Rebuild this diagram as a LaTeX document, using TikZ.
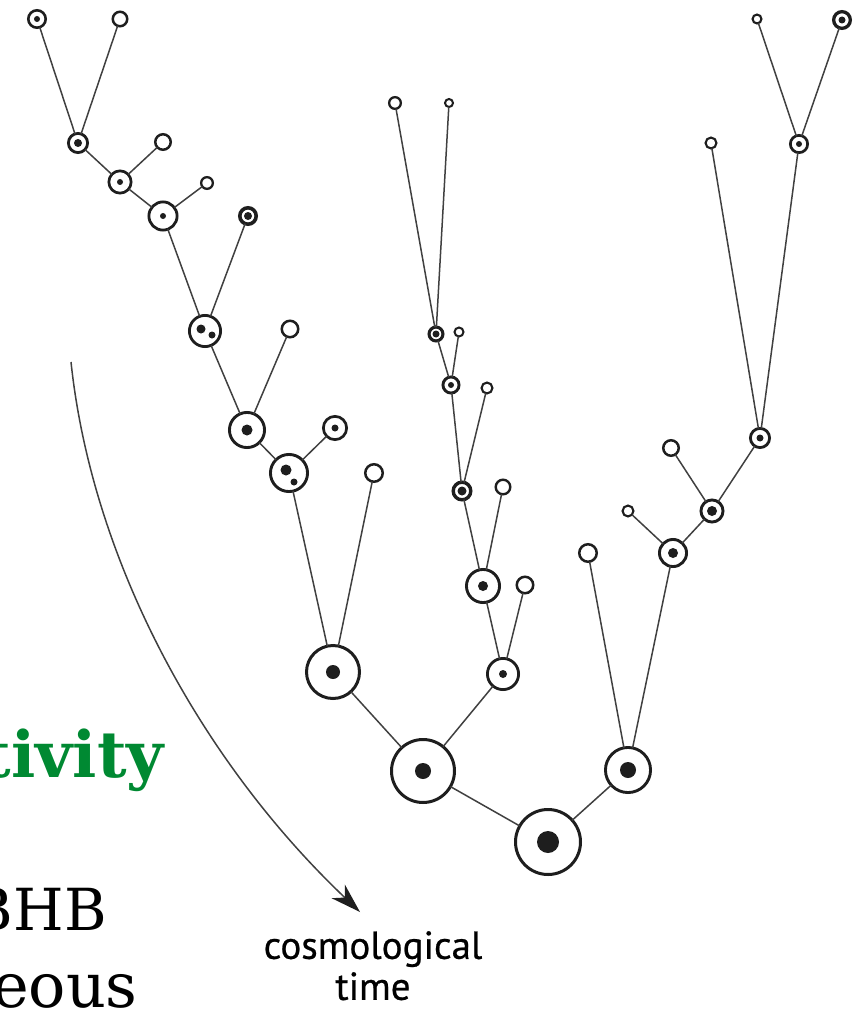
\documentclass[tikz,border=0pt]{standalone}
\usepackage{fontspec}
\setmainfont{DejaVu Serif}
\newfontfamily\labelfont[FakeBold=0.6]{PT Sans}
\usetikzlibrary{arrows.meta}
\definecolor{ink}{HTML}{1E1E1E}
\definecolor{wire}{HTML}{404040}
\definecolor{leafgreen}{RGB}{0,137,50}
\tikzset{
  halo/.style={circle, draw=ink, fill=white, inner sep=0pt, outer sep=0pt},
  link/.style={draw=wire, line width=1.5pt},
  timearrow/.style={draw=wire, line width=1.5pt, -{Stealth[length=30pt, width=19pt, inset=9pt, color=ink]}},
}
% \bhole{name}{x,y}{outer radius}{core radius}{ring width}
\newcommand\bhole[5]{%
  \pgfmathsetmacro\ringd{2*#3-#5}%
  \node[halo, minimum size=\ringd pt, line width=#5pt] (#1) at (#2) {};%
  \ifdim #4pt>0pt \fill[ink] (#1.center) circle[radius=#4pt];\fi
}
\begin{document}
\begin{tikzpicture}[x=1pt, y=-1pt]
\useasboundingbox (0,0) rectangle (858,1011);
\clip (0,0) rectangle (858,1011);

% ---- left branch ----
\bhole{L1}{37,19}{10}{3}{2.6}
\bhole{L2}{120,19}{8.5}{0}{2.5}
\bhole{L3}{78,143}{11}{4}{2.8}
\bhole{L4}{163,142}{9}{0}{2.5}
\bhole{L5}{120,182}{12.5}{3}{2.7}
\bhole{L6}{207,183}{7}{0}{2.3}
\bhole{L7}{163,216}{15.5}{3}{2.8}
\bhole{L8}{248,216}{10}{4}{3.6}
\bhole{L9}{205,331}{17}{0}{2.8}
\fill[ink] (201,329) circle[radius=4.5pt] (212,335) circle[radius=3.5pt];
\bhole{L10}{290,329}{9.5}{0}{2.5}
\bhole{L11}{247,430}{19}{5.5}{2.9}
\bhole{L12}{335,428}{13}{3.5}{2.7}
\bhole{L13}{289,473}{20}{0}{2.9}
\fill[ink] (286,470) circle[radius=5.5pt] (294,482) circle[radius=3.5pt];
\bhole{L14}{374,473}{10}{0}{2.5}
\bhole{L15}{333,672}{28}{7}{3}
\bhole{L16}{503,674}{17}{4}{2.8}

% ---- middle branch ----
\bhole{Ma}{395,103}{7}{0}{2.3}
\bhole{Mb}{449,103}{5}{0}{2}
\bhole{Mc}{436,334}{8.5}{3.5}{3.1}
\bhole{Md}{459,332}{5.5}{0}{2}
\bhole{Me}{451,385}{9.5}{3}{2.9}
\bhole{Mf}{487,388}{6.5}{0}{2.1}
\bhole{Mg}{462,491}{10.5}{4.5}{3.4}
\bhole{Mh}{503,487}{8.5}{0}{2.4}
\bhole{Mi}{483,586}{18}{5}{2.9}
\bhole{Mj}{525,585}{9.5}{0}{2.5}

% ---- trunk ----
\bhole{M1}{423,771}{33}{8}{3}
\bhole{R1}{548,842}{34}{11}{3}
\bhole{R2}{628,770}{24}{8}{2.9}

% ---- right branch ----
\bhole{T1}{757,19}{5.5}{0}{2.1}
\bhole{T2}{842,20}{10}{3.5}{3.3}
\bhole{T3}{799,144}{10}{3}{2.7}
\bhole{T4}{711,143}{6.5}{0}{2.1}
\bhole{T5}{760,438}{11}{3.5}{2.8}
\bhole{T6}{671,448}{9}{0}{2.5}
\bhole{T7}{712,511}{12.5}{5}{2.9}
\bhole{T8}{628,511}{6.5}{0}{2.1}
\bhole{T9}{673,553}{15}{5}{2.9}
\bhole{T10}{588,553}{10}{0}{2.5}

% ---- mergers ----
\path[link] (L1) -- (L3)  (L2) -- (L3)  (L3) -- (L5)  (L4) -- (L5)
  (L5) -- (L7)  (L6) -- (L7)  (L7) -- (L9)  (L8) -- (L9)
  (L9) -- (L11)  (L10) -- (L11)  (L11) -- (L13)  (L12) -- (L13)
  (L13) -- (L15)  (L14) -- (L15)  (L15) -- (M1);
\path[link] (Ma) -- (Mc)  (Mb) -- (Mc)  (Mc) -- (Me)  (Md) -- (Me)
  (Me) -- (Mg)  (Mf) -- (Mg)  (Mg) -- (Mi)  (Mh) -- (Mi)
  (Mi) -- (L16)  (Mj) -- (L16)  (L16) -- (M1);
\path[link] (M1) -- (R1)  (R2) -- (R1);
\path[link] (T1) -- (T3)  (T2) -- (T3)  (T3) -- (T5)  (T4) -- (T5)
  (T5) -- (T7)  (T6) -- (T7)  (T7) -- (T9)  (T8) -- (T9)
  (T9) -- (R2)  (T10) -- (R2);

% ---- time arrow ----
\coordinate (tstart) at (71,362);
\coordinate (tend) at (360,912);
\draw[timearrow] (tstart) .. controls (92,560) and (200,760) .. (tend);
\node[font=\labelfont\fontsize{39}{41}\selectfont, align=center, anchor=north, inner sep=0pt] (tlabel) at (373,931) {cosmological\\time};

% ---- side text ----
\node[font=\bfseries\fontsize{64}{64}\selectfont, text=leafgreen, anchor=base east, inner sep=0pt] (side1) at (164,777) {tivity};
\node[font=\fontsize{58}{58}\selectfont, anchor=base east, inner sep=0pt] (side2) at (107,930) {BHB};
\node[font=\fontsize{62}{62}\selectfont, anchor=base east, inner sep=0pt] (side3) at (138,1007) {eous};
\end{tikzpicture}
\end{document}
